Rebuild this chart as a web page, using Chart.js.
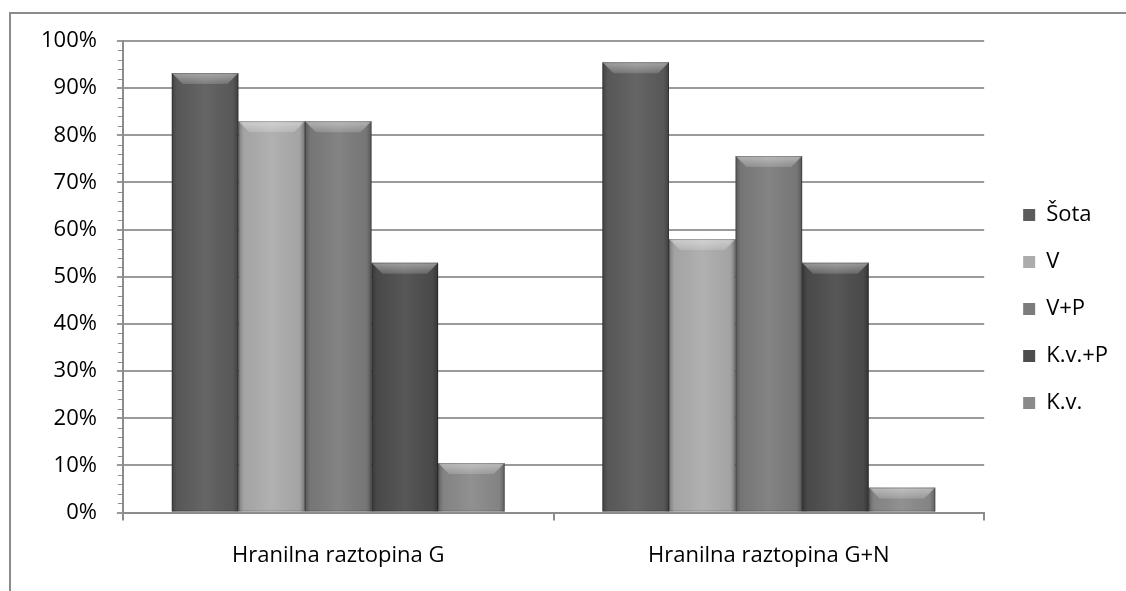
<!DOCTYPE html>
<html>
<head>
<meta charset="utf-8">
<script src="https://cdn.jsdelivr.net/npm/chart.js@4.4.0/dist/chart.umd.min.js"></script>
<style>
  body { margin: 0; background: #fff; overflow: hidden; }
  #frame { position: absolute; left: 9px; top: 12px; width: 2000px; height: 2000px;
           border-top: 2px solid #8c8c8c; border-left: 2px solid #8c8c8c; }
  #wrap { position: absolute; left: 0; top: 0; width: 1126px; height: 591px; }
</style>
</head>
<body>
<div id="frame"></div>
<div id="wrap"><canvas id="chart"></canvas></div>
<script>
const categories = ["Hranilna raztopina G", "Hranilna raztopina G+N"];
const seriesNames = ["Šota", "V", "V+P", "K.v.+P", "K.v."];
const sota = [93.2, 95.5];
const v = [83, 58];
const vp = [83, 75.6];
const kvp = [53, 53];
const kv = [10.5, 5.3];
const yTicks = [0, 10, 20, 30, 40, 50, 60, 70, 80, 90, 100];

const colors = ["#5c5c5c", "#acacac", "#7c7c7c", "#4d4d4d", "#8a8a8a"];
const values = [sota, v, vp, kvp, kv];
const font = { family: "Open Sans", size: 22 };

// bevel look on each bar, drawn on top of the plain fill
const bevelPlugin = {
  id: "bevel",
  afterDatasetsDraw(chart) {
    const ctx = chart.ctx;
    chart.data.datasets.forEach((ds, i) => {
      chart.getDatasetMeta(i).data.forEach((bar) => {
        const left = bar.x - bar.width / 2;
        const right = bar.x + bar.width / 2;
        const top = bar.y;
        const bottom = bar.base;
        const h = bottom - top;
        const b = Math.min(11, h);
        ctx.save();
        // side shading
        let g = ctx.createLinearGradient(left, 0, right, 0);
        g.addColorStop(0, "rgba(0,0,0,0.28)");
        g.addColorStop(0.08, "rgba(0,0,0,0.05)");
        g.addColorStop(0.5, "rgba(255,255,255,0.06)");
        g.addColorStop(0.92, "rgba(0,0,0,0.05)");
        g.addColorStop(1, "rgba(0,0,0,0.3)");
        ctx.fillStyle = g;
        ctx.fillRect(left, top, right - left, h);
        // top bevel
        ctx.beginPath();
        ctx.moveTo(left, top);
        ctx.lineTo(right, top);
        ctx.lineTo(right - b, top + b);
        ctx.lineTo(left + b, top + b);
        ctx.closePath();
        g = ctx.createLinearGradient(0, top, 0, top + b);
        g.addColorStop(0, "rgba(255,255,255,0.45)");
        g.addColorStop(1, "rgba(255,255,255,0.15)");
        ctx.fillStyle = g;
        ctx.fill();
        ctx.strokeStyle = "rgba(0,0,0,0.25)";
        ctx.lineWidth = 1;
        ctx.strokeRect(left + 0.5, top + 0.5, right - left - 1, h - 1);
        ctx.restore();
      });
    });
  }
};

// minor ticks every 2% on the y axis
const minorTicks = {
  id: "minorTicks",
  afterDraw(chart) {
    const y = chart.scales.y;
    const ctx = chart.ctx;
    ctx.save();
    ctx.strokeStyle = "#8c8c8c";
    ctx.lineWidth = 1;
    for (let val = 0; val <= 100; val += 2) {
      if (yTicks.includes(val)) continue;
      const py = Math.round(y.getPixelForValue(val)) + 0.5;
      ctx.beginPath();
      ctx.moveTo(y.right - 5, py);
      ctx.lineTo(y.right, py);
      ctx.stroke();
    }
    ctx.restore();
  }
};

// nudge the legend so it sits where the original has it
const legendShift = {
  id: "legendShift",
  afterLayout(chart) {
    const lg = chart.legend;
    lg.left += 14; lg.right += 14;
    lg.top -= 7; lg.bottom -= 7;
  }
};

new Chart(document.getElementById("chart"), {
  type: "bar",
  data: {
    labels: categories,
    datasets: seriesNames.map((name, i) => ({
      label: name,
      data: values[i],
      backgroundColor: colors[i],
      borderWidth: 0,
      categoryPercentage: 0.773,
      barPercentage: 1
    }))
  },
  options: {
    responsive: true,
    maintainAspectRatio: false,
    animation: false,
    layout: { padding: { left: 21, top: 41, right: 22, bottom: 0 } },
    plugins: {
      tooltip: { enabled: false },
      legend: {
        position: "right",
        align: "center",
        labels: {
          boxWidth: 12,
          boxHeight: 12,
          padding: 25,
          color: "#000",
          font: font
        }
      }
    },
    scales: {
      x: {
        grid: { offset: true, drawOnChartArea: false, drawTicks: true, tickLength: 8, color: "#8c8c8c", lineWidth: 2 },
        border: { color: "#8c8c8c", width: 2 },
        ticks: { color: "#000", padding: 22, font: font }
      },
      y: {
        min: 0,
        max: 100,
        ticks: {
          stepSize: 10,
          color: "#000",
          padding: 20,
          font: font,
          callback: (val) => val + "%"
        },
        grid: { color: "#9a9a9a", lineWidth: 2, tickLength: 6 },
        border: { color: "#8c8c8c", width: 2 }
      }
    }
  },
  plugins: [bevelPlugin, minorTicks, legendShift]
});
</script>
</body>
</html>
